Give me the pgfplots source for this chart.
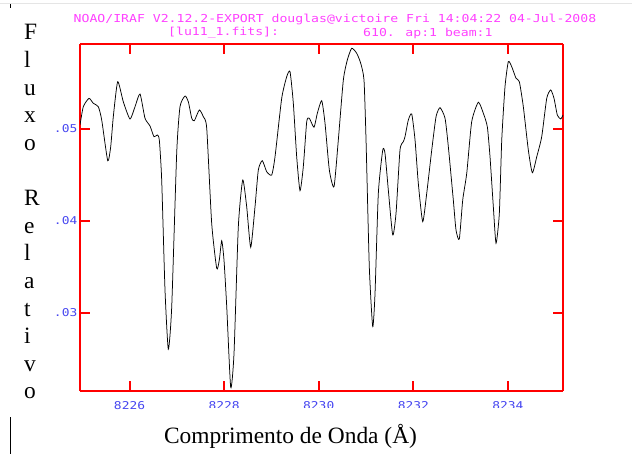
\documentclass[border=0pt]{standalone}
\usepackage{pgfplots}
\pgfplotsset{compat=1.18}
\usepackage{fontspec}
\setmainfont{Liberation Serif}
\newfontfamily\iraf{DejaVu Sans Mono}
\newcommand\irafs[1]{\scalebox{1.2}[1]{#1}}
\definecolor{irafmag}{RGB}{255,64,255}
\definecolor{irafblue}{RGB}{70,70,240}
\definecolor{irafred}{RGB}{255,0,0}

\begin{document}
\begin{tikzpicture}
\begin{axis}[
    at={(80bp,63bp)}, anchor=south west,
    scale only axis,
    width=483bp, height=347bp,
    xmin=8224.953, xmax=8235.164,
    ymin=0.021456, ymax=0.059235,
    scaled x ticks=false, scaled y ticks=false,
    xtick={8226,8228,8230,8232,8234},
    xticklabels={\irafs{8226},\irafs{8228},\irafs{8230},\irafs{8232},\irafs{8234}},
    ytick={0.03,0.04,0.05},
    yticklabels={},
    separate axis lines,
    every outer x axis line/.append style={irafred, line width=2bp},
    every outer y axis line/.append style={irafred, line width=2bp},
    every tick/.append style={irafred, line width=2bp},
    major tick length=10bp,
    tick align=inside,
    xtick pos=both, ytick pos=both,
    xticklabel style={font=\iraf\fontsize{10.8}{12}\selectfont, text=irafblue,
        anchor=north, yshift=-6.5bp},
]
% espectro lu11_1.fits, ap:1
\addplot[black, line width=0.75bp, smooth, tension=0.35] coordinates {
(8224.953,0.05042) (8225.023,0.05241) (8225.143,0.05332) (8225.234,0.05278)
(8225.340,0.05241) (8225.412,0.05096) (8225.539,0.04653) (8225.602,0.04805)
(8225.657,0.05132) (8225.750,0.05513) (8225.868,0.05295) (8226.010,0.05107)
(8226.116,0.05241) (8226.222,0.05379) (8226.327,0.05115) (8226.433,0.05031)
(8226.517,0.04914) (8226.587,0.04933) (8226.630,0.04878) (8226.680,0.04443)
(8226.750,0.03245) (8226.820,0.02600) (8226.892,0.03063) (8226.997,0.04733)
(8227.067,0.05241) (8227.173,0.05357) (8227.243,0.05295) (8227.315,0.05115)
(8227.370,0.05088) (8227.475,0.05205) (8227.560,0.05132) (8227.632,0.05006)
(8227.737,0.03971) (8227.843,0.03481) (8227.898,0.03572) (8227.949,0.03782)
(8227.997,0.03572) (8228.055,0.03063) (8228.139,0.02186) (8228.209,0.02556)
(8228.300,0.03934) (8228.393,0.04443) (8228.477,0.04152) (8228.562,0.03710)
(8228.653,0.04152) (8228.723,0.04552) (8228.807,0.04653) (8228.900,0.04533)
(8229.006,0.04497) (8229.076,0.04696) (8229.217,0.05332) (8229.323,0.05567)
(8229.393,0.05622) (8229.463,0.05278) (8229.534,0.04696) (8229.604,0.04326)
(8229.674,0.04588) (8229.746,0.05078) (8229.801,0.05115) (8229.900,0.05017)
(8229.970,0.05169) (8230.063,0.05306) (8230.133,0.05060) (8230.224,0.04552)
(8230.323,0.04370) (8230.414,0.04878) (8230.520,0.05531) (8230.604,0.05749)
(8230.697,0.05877) (8230.803,0.05822) (8230.888,0.05713) (8230.957,0.05531)
(8231.000,0.04878) (8231.069,0.03499) (8231.141,0.02846) (8231.190,0.03209)
(8231.260,0.04298) (8231.353,0.04769) (8231.401,0.04733) (8231.471,0.04334)
(8231.564,0.03844) (8231.634,0.04080) (8231.718,0.04769) (8231.788,0.04860)
(8231.824,0.04914) (8231.894,0.05096) (8231.966,0.05161) (8232.036,0.04878)
(8232.105,0.04407) (8232.198,0.03989) (8232.283,0.04298) (8232.389,0.04769)
(8232.480,0.05132) (8232.564,0.05230) (8232.670,0.05115) (8232.740,0.04805)
(8232.845,0.04225) (8232.902,0.03898) (8232.972,0.03800) (8233.044,0.04225)
(8233.129,0.04516) (8233.234,0.05078) (8233.374,0.05289) (8233.480,0.05169)
(8233.564,0.05023) (8233.621,0.04696) (8233.691,0.04152) (8233.748,0.03754)
(8233.818,0.04080) (8233.869,0.04878) (8233.938,0.05459) (8234.008,0.05731)
(8234.080,0.05676) (8234.171,0.05550) (8234.241,0.05513) (8234.325,0.05241)
(8234.431,0.04769) (8234.516,0.04522) (8234.609,0.04696) (8234.714,0.04914)
(8234.820,0.05332) (8234.904,0.05423) (8234.974,0.05332) (8235.044,0.05150)
(8235.116,0.05107) (8235.164,0.05150)
};
\coordinate (y03) at (axis cs:8224.953,0.03);
\coordinate (y04) at (axis cs:8224.953,0.04);
\coordinate (y05) at (axis cs:8224.953,0.05);
\end{axis}

% rotulos do eixo y (.03 .04 .05)
\foreach \p/\t in {y03/.03,y04/.04,y05/.05}
  \node[font=\iraf\fontsize{10.8}{12}\selectfont, text=irafblue, inner sep=0,
        anchor=east, xshift=-2.5bp] at (\p) {\irafs{\t}};

% cabecalho do IRAF
\node[font=\iraf\fontsize{11}{13}\selectfont, text=irafmag, inner sep=0]
  at (335bp,435bp) {\irafs{NOAO/IRAF V2.12.2-EXPORT douglas@victoire Fri 14:04:22 04-Jul-2008}};
\node[font=\iraf\fontsize{11}{13}\selectfont, text=irafmag, inner sep=0, anchor=west]
  at (168bp,421bp) {\irafs{[lu11\_1.fits]:}};
\node[font=\iraf\fontsize{11}{13}\selectfont, text=irafmag, inner sep=0, anchor=west]
  at (363bp,421bp) {\irafs{610. ap:1 beam:1}};

% caixa branca do rotulo x (cobre parte dos numeros)
\fill[white] (160bp,0) rectangle (632bp,46bp);
\node[font=\fontsize{23.5}{28}\selectfont, anchor=base, inner sep=0]
  at (290.5bp,11bp) {Comprimento de Onda (Å)};

% rotulo y, uma letra por linha
\foreach \c [count=\i] in {F,l,u,x,o,{},R,e,l,a,t,i,v,o}
  \node[font=\fontsize{23.5}{28}\selectfont, anchor=base west, inner sep=0]
    at (24bp,{(414-27.6*(\i-1))*1bp}) {\c};

% marcas soltas da imagem original
\draw[gray!20, line width=0.6bp] (0,451bp) -- (632bp,451bp);
\draw[black, line width=0.8bp] (10bp,446bp) -- (10bp,450bp);
\draw[black, line width=0.8bp] (10bp,0) -- (10bp,37bp);

\pgfresetboundingbox
\path[use as bounding box] (0,0) rectangle (632bp,454bp);
\end{tikzpicture}
\end{document}
